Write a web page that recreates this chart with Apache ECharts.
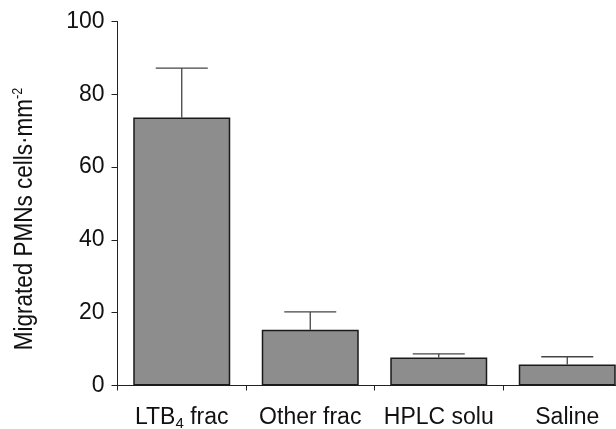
<!DOCTYPE html>
<html>
<head>
<meta charset="utf-8">
<script src="https://cdn.jsdelivr.net/npm/echarts@6/dist/echarts.min.js"></script>
<style>
  html, body { margin: 0; padding: 0; background: #fff; }
  #chart { width: 616px; height: 429px; }
</style>
</head>
<body>
<div id="chart"></div>
<script>
// Data
const categories = ["LTB4 frac", "Other frac", "HPLC solu", "Saline"];
const means = [73.6, 15.3, 7.7, 5.8];
const errors = [13.6, 4.9, 1.0, 2.1];
const yTicks = [0, 20, 40, 60, 80, 100];

const font = "'Liberation Sans', Arial, Helvetica, sans-serif";

// LTB4 gets its 4 as a subscript
function catLabel(name) {
    if (name.indexOf("LTB4") === 0) {
        return "{n|LTB}{sub|4}{n|" + name.slice(4) + "}";
    }
    return "{n|" + name + "}";
}

const chart = echarts.init(document.getElementById("chart"));

const option = {
    animation: false,
    grid: { left: 117.5, top: 21.5, width: 514, height: 364, outerBoundsMode: "none", containLabel: false },
    xAxis: {
        type: "category",
        data: categories,
        axisLine: { lineStyle: { color: "#222", width: 1 } },
        axisTick: { show: true, length: 5, lineStyle: { color: "#222" } },
        axisLabel: {
            interval: 0,
            margin: 18,
            formatter: catLabel,
            rich: {
                n: { fontFamily: font, fontSize: 23, color: "#111", lineHeight: 28 },
                sub: { fontFamily: font, fontSize: 15, color: "#111", verticalAlign: "bottom", lineHeight: 14 }
            }
        }
    },
    yAxis: {
        type: "value",
        min: yTicks[0],
        max: yTicks[yTicks.length - 1],
        interval: 20,
        splitLine: { show: false },
        axisLine: { show: true, lineStyle: { color: "#222", width: 1 } },
        axisTick: { show: true, length: 6, lineStyle: { color: "#222" } },
        axisLabel: { margin: 13, fontFamily: font, fontSize: 23, color: "#111" }
    },
    graphic: [{
        type: "text",
        x: 25,
        y: 219,
        rotation: Math.PI / 2,
        scaleX: 0.9,
        style: {
            text: "{n|Migrated PMNs cells·mm}{sup|-2}",
            textAlign: "center",
            textVerticalAlign: "middle",
            rich: {
                n: { fontFamily: font, fontSize: 25, fill: "#111", lineHeight: 28 },
                sup: { fontFamily: font, fontSize: 14, fill: "#111", verticalAlign: "top", lineHeight: 14 }
            }
        }
    }],
    series: [
        {
            type: "bar",
            data: means,
            barWidth: 97,
            itemStyle: { color: "#8d8d8d", borderColor: "#1a1a1a", borderWidth: 1.5 },
            z: 2
        },
        {
            type: "custom",
            data: means.map((m, i) => [i, m, errors[i]]),
            z: 3,
            renderItem: function(params, api) {
                const base = api.coord([api.value(0), api.value(1)]);
                const top = api.coord([api.value(0), api.value(1) + api.value(2)]);
                const half = 26;
                const st = { stroke: "#444", lineWidth: 1.3 };
                return {
                    type: "group",
                    children: [
                        { type: "line", shape: { x1: base[0], y1: base[1], x2: top[0], y2: top[1] }, style: st },
                        { type: "line", shape: { x1: top[0] - half, y1: top[1], x2: top[0] + half, y2: top[1] }, style: st }
                    ]
                };
            }
        }
    ]
};

chart.setOption(option);
</script>
</body>
</html>
